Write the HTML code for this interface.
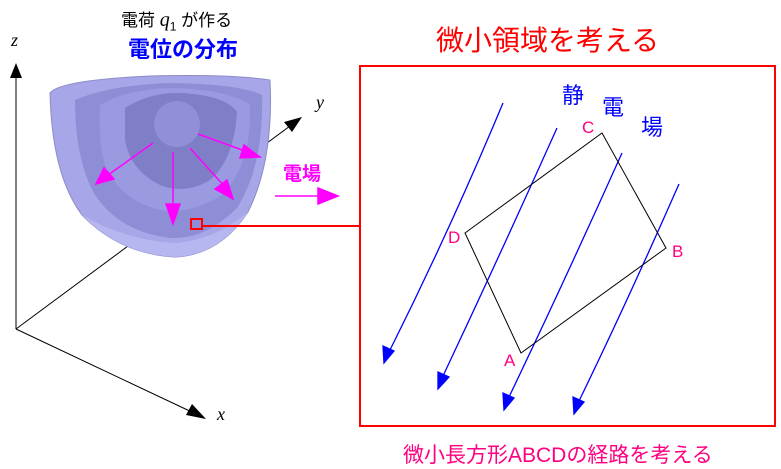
<!DOCTYPE html>
<html><head><meta charset="utf-8"><style>
html,body{margin:0;padding:0;background:#fff;}
body{width:781px;height:468px;position:relative;overflow:hidden;font-family:"Liberation Sans","Noto Sans CJK JP",sans-serif;}
.t{position:absolute;white-space:nowrap;}
</style></head><body>
<svg width="781" height="468" style="position:absolute;left:0;top:0">
<line x1="16" y1="329" x2="16" y2="78" stroke="#000" stroke-width="1"/>
<polygon points="16,63 10,78 22,78" fill="#000"/>
<line x1="16" y1="329" x2="196" y2="414" stroke="#000" stroke-width="1"/>
<polygon points="206,419 186,415 192,404" fill="#000"/>
<line x1="16" y1="329" x2="290" y2="126" stroke="#000" stroke-width="1"/>
<polygon points="302,117 284,122 292,132" fill="#000"/>
<path d="M50,93 Q60,80 150,76 Q230,74 270,80 Q274,160 248,212 Q220,255 175,257 Q120,254 82,215 Q52,175 50,93 Z" fill="#a6a6e8" stroke="#8c8cc8"/>
<path d="M75,100 Q110,85 170,83 Q240,84 262,95 Q264,165 237,208 Q205,240 170,238 Q120,232 95,195 Q75,160 75,100 Z" fill="#8e8ed6"/>
<path d="M100,105 Q130,88 175,88 Q230,90 250,105 Q252,165 222,195 Q190,215 160,210 Q120,200 105,165 Q98,140 100,105 Z" fill="#9a9ae0"/>
<path d="M125,108 Q150,92 180,93 Q225,95 237,112 Q234,160 210,180 Q185,195 160,185 Q130,170 125,140 Z" fill="#7f7fc8"/>
<circle cx="177" cy="124" r="23" fill="#9090d8"/>
<path d="M82,215 Q120,254 175,257 Q220,255 248,212 Q215,240 175,243 Q125,240 82,215 Z" fill="#b6b6f0"/>
<g stroke="#ff00ff" stroke-width="1.5" fill="#ff00ff">
<line x1="153" y1="143" x2="108" y2="175"/><polygon points="96,184 104,168 114,179"/>
<line x1="173" y1="152" x2="173" y2="210"/><polygon points="173,224 166,204 180,204"/>
<line x1="190" y1="148" x2="225" y2="187"/><polygon points="233,199 215,189 227,180"/>
<line x1="198" y1="134" x2="245" y2="151"/><polygon points="260,157 240,158 244,145"/>
<line x1="275" y1="196" x2="320" y2="196"/><polygon points="338,196 318,188 318,204"/>
</g>
<rect x="191" y="219" width="11" height="10" fill="none" stroke="#ff0000" stroke-width="2"/>
<line x1="202" y1="226" x2="360" y2="226" stroke="#ff0000" stroke-width="2"/>
<rect x="360" y="66" width="415" height="360" fill="none" stroke="#ff0000" stroke-width="2"/>
<g stroke="#0000ff" stroke-width="1.3" fill="#0000ff">
<path d="M503,103 Q450,230 390,350" fill="none"/><polygon points="384,363 383,346 394,351"/>
<path d="M557,128 Q500,255 443,376" fill="none"/><polygon points="438,389 438,372 449,377"/>
<path d="M622,153 Q565,280 509,397" fill="none"/><polygon points="504,410 503,393 514,398"/>
<path d="M679,184 Q628,300 579,401" fill="none"/><polygon points="574,414 573,397 584,402"/>
</g>
<polygon points="602,133 666,248 521,353 465,233" fill="none" stroke="#000" stroke-width="1"/>
</svg>
<div class="t" style="left:121px;top:6px;font-size:17px;color:#000">電荷 <i style="font-family:'Liberation Serif',serif;font-size:20px">q</i><sub style="font-size:12px">1</sub> が作る</div>
<div class="t" style="left:128px;top:32px;font-size:22px;color:#0000ff;font-weight:bold">電位の分布</div>
<div class="t" style="left:11px;top:30px;font-size:18px;font-style:italic;font-family:'Liberation Serif',serif">z</div>
<div class="t" style="left:316px;top:92px;font-size:18px;font-style:italic;font-family:'Liberation Serif',serif">y</div>
<div class="t" style="left:217px;top:404px;font-size:18px;font-style:italic;font-family:'Liberation Serif',serif">x</div>
<div class="t" style="left:283px;top:159px;font-size:19px;color:#ff00ff;font-weight:bold">電場</div>
<div class="t" style="left:436px;top:19px;font-size:28px;color:#ff0000">微小領域を考える</div>
<div class="t" style="left:562px;top:78px;font-size:22px;color:#0000ff">静</div>
<div class="t" style="left:602px;top:90px;font-size:22px;color:#0000ff">電</div>
<div class="t" style="left:641px;top:110px;font-size:22px;color:#0000ff">場</div>
<div class="t" style="left:582px;top:118px;font-size:17px;color:#ff0080">C</div>
<div class="t" style="left:448px;top:228px;font-size:17px;color:#ff0080">D</div>
<div class="t" style="left:672px;top:242px;font-size:17px;color:#ff0080">B</div>
<div class="t" style="left:504px;top:351px;font-size:17px;color:#ff0080">A</div>
<div class="t" style="left:403px;top:439px;font-size:21px;color:#ff0080">微小長方形ABCDの経路を考える</div>
</body></html>
